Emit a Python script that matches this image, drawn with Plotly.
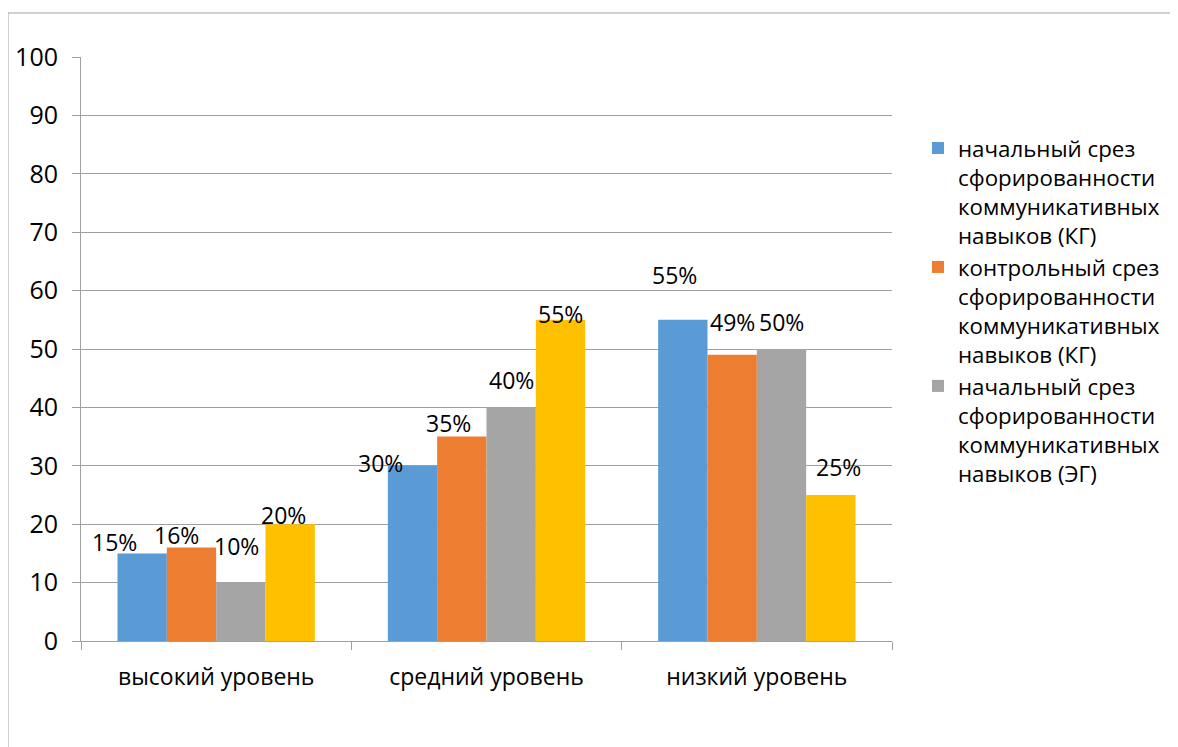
import plotly.graph_objects as go

categories = ["высокий уровень", "средний уровень", "низкий уровень"]
series_names = [
    "начальный срез<br>сфорированности<br>коммуникативных<br>навыков (КГ)",
    "контрольный срез<br>сфорированности<br>коммуникативных<br>навыков (КГ)",
    "начальный срез<br>сфорированности<br>коммуникативных<br>навыков (ЭГ)",
    "контрольный срез<br>сфорированности<br>коммуникативных<br>навыков (ЭГ)",
]
kg_initial = [15, 30, 55]
kg_control = [16, 35, 49]
eg_initial = [10, 40, 50]
eg_control = [20, 55, 25]
y_ticks = list(range(0, 101, 10))

series_values = [kg_initial, kg_control, eg_initial, eg_control]
colors = ["#5B9BD5", "#ED7D31", "#A5A5A5", "#FFC000"]
in_legend = [True, True, True, False]

# label offsets (px) relative to bar-top centre: (dx, dy) with dy up positive
label_offsets = [
    [(-28, 11), (-32, 3), (-8, 45)],
    [(-15, 13), (-13, 14), (0, 33)],
    [(-4, 37), (0, 27), (0, 27)],
    [(-7, 9), (0, 6), (8, 28)],
]

FONT = "Open Sans"
FS = 23
bargap = 0.27

fig = go.Figure()
for name, vals, col, leg in zip(series_names, series_values, colors, in_legend):
    fig.add_trace(go.Bar(
        x=categories, y=vals, name=name, marker_color=col,
        marker_line_width=0, showlegend=leg,
    ))

n = len(series_values)
bw = (1 - bargap) / n
annotations = []
for i, vals in enumerate(series_values):
    for j, v in enumerate(vals):
        dx, dy = label_offsets[i][j]
        annotations.append(dict(
            x=j - (1 - bargap) / 2 + bw * (i + 0.5), y=v, xref="x", yref="y",
            text=f"{v}%", showarrow=False, xshift=dx, yshift=dy,
            font=dict(family=FONT, size=FS, color="#000000"),
        ))

border = "#a0a0a0"
W, H = 1178, 747
OFF = 8  # page body margin
# plot area in screen pixels: x 81..892, y 57..641
L = 81 - OFF
R = W - (892 - OFF)
T = 57 - OFF
B = H - (641 - OFF)
pw, ph = W - L - R, H - T - B

def px_x(p):
    return (p - OFF - L) / pw

def px_y(p):
    return (H - B - (p - OFF)) / ph

shapes = [
    dict(type="line", xref="paper", yref="paper", x0=px_x(8), x1=px_x(1190),
         y0=px_y(13), y1=px_y(13), line=dict(color=border, width=1)),
    dict(type="line", xref="paper", yref="paper", x0=px_x(8), x1=px_x(8),
         y0=px_y(13), y1=px_y(760), line=dict(color=border, width=1)),
]

fig.update_layout(
    width=W, height=H,
    margin=dict(l=L, r=R, t=T, b=B),
    paper_bgcolor="white", plot_bgcolor="white",
    barmode="group", bargap=bargap, bargroupgap=0,
    font=dict(family=FONT, size=FS, color="#000000"),
    annotations=annotations, shapes=shapes,
    legend=dict(
        x=px_x(918), y=px_y(127), xanchor="left", yanchor="top",
        font=dict(family=FONT, size=22.3, color="#000000"),
        valign="top", itemwidth=30, tracegroupgap=0,
        bgcolor="rgba(0,0,0,0)",
    ),
    xaxis=dict(
        type="category", showgrid=False, showline=True, linecolor=border,
        linewidth=1, ticks="outside", tickson="boundaries", ticklen=8,
        tickcolor=border, tickfont=dict(family=FONT, size=FS, color="#000000"),
        ticklabelstandoff=15, automargin=False, range=[-0.5, 2.5],
    ),
    yaxis=dict(
        range=[0, 100], tickvals=y_ticks, showgrid=True, gridcolor=border,
        gridwidth=1, showline=True, linecolor=border, linewidth=1,
        ticks="outside", ticklen=8, tickcolor=border, zeroline=False,
        tickfont=dict(family=FONT, size=25, color="#000000"),
        ticklabelstandoff=9, automargin=False,
    ),
)

fig.write_html("out.html")
